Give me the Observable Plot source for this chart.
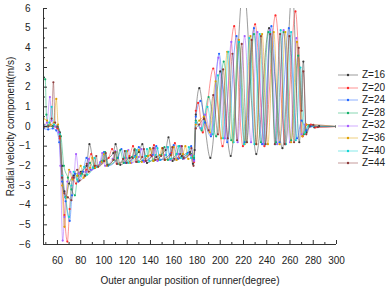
<!DOCTYPE html>
<html><head><meta charset="utf-8">
<script src="https://cdn.jsdelivr.net/npm/d3@7"></script>
<script src="https://cdn.jsdelivr.net/npm/@observablehq/plot@0.6"></script>
<style>
body{margin:0;background:#fff;}
#wrap{position:relative;width:391px;height:290px;font-family:"Liberation Sans",Arial,sans-serif;}
#legend{position:absolute;left:338px;top:69px;font-size:10px;color:#222;line-height:12.6px;}
.row{display:flex;align-items:center;height:12.6px;}
.row svg{display:block;margin-right:4px;}
</style></head><body><div id="wrap"></div>
<script>
const seriesNames = ["Z=16","Z=20","Z=24","Z=28","Z=32","Z=36","Z=40","Z=44"];
const seriesColors = ["#3a3a3a","#ff2a2a","#2266ff","#14b06a","#a55cff","#e0a000","#12d4d4","#8c3a3a"];
const xLabel = "Outer angular position of runner(degree)";
const yLabel = "Radial velocity component(m/s)";
const xDomain = [48, 300];
const yDomain = [-6, 6];
const xMajor = [60,80,100,120,140,160,180,200,220,240,260,280,300];
const xMinor = [50,70,90,110,130,150,170,190,210,230,250,270,290];
const yMajor = [-6,-5,-4,-3,-2,-1,0,1,2,3,4,5,6];
const yMinor = [-5.5,-4.5,-3.5,-2.5,-1.5,-0.5,0.5,1.5,2.5,3.5,4.5,5.5];

const z16 = [[48,0.02],[52,0.0],[56,0.03],[60,-0.05],[62,-0.3],[64,-2.0],[66,-3.3],[67,-3.6],[70,-2.9],[74,-2.5],[80,-2.3],[85,-2.0],[87.5,-0.9],[92,-2.1],[100,-1.75],[108,-1.35],[110,-0.9],[114,-1.95],[122,-1.6],[130,-1.3],[133,-0.9],[137,-1.85],[145,-1.55],[153,-1.2],[155.5,-0.55],[159,-1.75],[167,-1.5],[174,-1.3],[176.5,-1.9],[178,-1.2],[179,0.6],[182,1.95],[186,0.4],[191.5,-1.6],[200,2.8],[209,-1.5],[220,7.2],[231,-1.4],[242,5.0],[253.5,-1.1],[262,7.0],[268,-0.8],[271.5,3.3],[274,-0.3],[277,0.05],[281,-0.05],[285,0.02],[300,0.0]];
const z20 = [[48,0.1],[52,0.05],[56,0.0],[60,-0.1],[62,-0.6],[64,-2.5],[66,-4.5],[68.5,-5.85],[70.5,-4.2],[73,-2.6],[76,-2.9],[80,-2.4],[85,-2.2],[89,-1.4],[93,-2.0],[104,-1.6],[107,-1.15],[111,-1.9],[122,-1.5],[125,-1.0],[129,-1.8],[140,-1.45],[143,-0.95],[147,-1.7],[158,-1.35],[161,-0.85],[165,-1.6],[175,-1.4],[177.5,-1.8],[179,0.8],[181,1.2],[185,-0.3],[194,2.95],[202,-1.0],[212,5.1],[219.5,-1.0],[230,5.2],[238,-1.0],[247.5,5.65],[256,-0.9],[264.7,5.85],[271,-0.5],[274,0.1],[278,0.1],[282,-0.05],[300,0.0]];
const z24 = [[48,-0.1],[52,-0.15],[56,-0.1],[59,-0.2],[61.5,-0.8],[64,-2.8],[67,-3.8],[70.5,-4.8],[72.5,-3.5],[75,-2.4],[78,-2.8],[82,-2.3],[85,-1.6],[88.5,-2.2],[97,-1.8],[100,-1.3],[103.5,-2.0],[112,-1.6],[115,-1.15],[118.5,-1.85],[127,-1.5],[130,-1.05],[133.5,-1.75],[142,-1.45],[145,-1.0],[148.5,-1.7],[157,-1.4],[160,-0.95],[163.5,-1.65],[172,-1.35],[175,-1.0],[177.5,-1.7],[179,0.5],[183,1.3],[187,0.2],[192,-0.5],[199,3.7],[206,-0.8],[214,4.6],[221,-0.8],[229,5.0],[236,-0.9],[244,5.1],[251,-0.8],[259,5.0],[266,-0.6],[270,0.3],[274,-0.2],[278,0.0],[300,0.0]];
const z28 = [[48,2.5],[49.5,2.4],[50.5,0.6],[52,0.05],[56,0.0],[60,0.0],[63,-0.5],[65.5,-2.0],[69,-2.6],[72,-3.2],[75,-3.5],[77.5,-2.5],[81,-2.4],[84,-2.5],[88,-1.85],[91,-2.1],[98.5,-1.75],[101,-1.3],[104,-1.95],[111.5,-1.6],[114,-1.2],[117,-1.85],[124,-1.55],[126.5,-1.15],[129.5,-1.8],[137,-1.5],[139.5,-1.1],[142.5,-1.75],[149.5,-1.45],[152,-1.05],[155,-1.7],[162.5,-1.4],[165,-1.0],[168,-1.65],[175,-1.4],[177.5,-1.6],[179,0.3],[184,-0.2],[190,1.5],[196.5,-0.5],[203,3.3],[209.5,-0.7],[216,4.3],[222.5,-0.8],[229,4.7],[235,-0.8],[241.5,4.8],[248,-0.8],[254.5,4.8],[261,-0.7],[267,3.6],[272,-0.4],[276,0.05],[300,0.0]];
const z32 = [[48,0.05],[51,0.2],[53.5,1.5],[55,0.3],[58,0.0],[61,-0.3],[62.5,-2.0],[64.5,-5.8],[66,-4.6],[68.5,-2.8],[71,-2.3],[74,-2.6],[76,-1.4],[78.5,-2.4],[85,-2.3],[87,-1.65],[89.5,-2.2],[96.5,-1.85],[98.5,-1.35],[101,-2.0],[107.5,-1.65],[109.75,-1.25],[112,-1.9],[119,-1.6],[121,-1.2],[123.5,-1.85],[130,-1.55],[132.25,-1.15],[134.5,-1.8],[141.5,-1.5],[143.5,-1.1],[146,-1.75],[152.5,-1.45],[154.75,-1.05],[157,-1.7],[164,-1.4],[166,-1.0],[168.5,-1.65],[175,-1.45],[177.5,-1.75],[179,0.2],[183,-0.1],[187,0.6],[192,-0.4],[198.5,3.5],[204,-0.6],[209.5,4.3],[215,-0.8],[221,4.6],[226.5,-0.8],[232,4.8],[237.5,-0.9],[243,4.9],[249,-0.9],[254.5,4.9],[260,-0.8],[265.5,4.5],[270,-0.4],[273,0.1],[300,0.0]];
const z36 = [[48,0.4],[51,0.3],[54,0.1],[57,0.2],[59,1.4],[60.5,0.1],[62,-0.5],[64,-3.0],[66,-5.1],[68,-3.6],[70,-2.2],[73,-2.7],[77,-2.5],[80,-2.0],[82.5,-2.6],[88,-2.1],[90,-1.6],[92.5,-2.1],[98,-1.8],[100,-1.4],[102.5,-2.0],[108,-1.7],[110,-1.3],[112.5,-1.9],[118,-1.6],[120,-1.25],[122.5,-1.85],[128,-1.55],[130,-1.2],[132.5,-1.8],[138,-1.5],[140,-1.15],[142.5,-1.75],[148,-1.45],[150,-1.1],[152.5,-1.7],[158,-1.45],[160,-1.05],[162.5,-1.7],[168,-1.4],[170,-1.0],[172.5,-1.65],[177,-1.5],[179,0.1],[182,0.3],[186,0.5],[191,-0.3],[196,2.3],[201,-0.6],[206,3.8],[211,-0.8],[216,4.4],[221,-0.9],[226,4.6],[231,-0.9],[236,4.7],[241,-0.9],[246,4.8],[251,-0.9],[256,4.8],[261,-0.8],[266,4.3],[270.5,-0.5],[274,0.1],[300,0.0]];
const z40 = [[48,0.1],[51,0.0],[53,0.2],[55,1.0],[57,0.1],[60,0.0],[62,-0.4],[64,-2.5],[67,-3.6],[70,-4.6],[72,-3.0],[74,-2.3],[77,-2.7],[80,-2.5],[83,-2.05],[85.5,-2.45],[90.5,-2.1],[92,-1.6],[94,-2.05],[99.5,-1.75],[101,-1.35],[103,-1.95],[108.5,-1.7],[110,-1.3],[112,-1.9],[117.5,-1.6],[119,-1.25],[121,-1.85],[126.5,-1.55],[128,-1.2],[130,-1.8],[135.5,-1.5],[137,-1.15],[139,-1.75],[144.5,-1.45],[146,-1.1],[148,-1.7],[153.5,-1.45],[155,-1.05],[157,-1.65],[162.5,-1.4],[164,-1.0],[166,-1.6],[171.5,-1.4],[173,-1.05],[175,-1.6],[177.5,-1.5],[179,0.2],[184,-0.1],[189,1.0],[193.5,-0.4],[198,2.6],[202.5,-0.6],[207,3.8],[211.5,-0.8],[216,4.3],[220.5,-0.9],[225,4.5],[229.5,-0.9],[234,4.7],[238.5,-0.9],[243,4.8],[247.5,-0.9],[252,4.9],[256.5,-0.9],[261,4.8],[265,-0.7],[269,3.0],[273,-0.3],[276,0.0],[300,0.0]];
const z44 = [[48,-0.05],[52,0.0],[55,0.4],[56.5,2.25],[58,0.2],[60,0.0],[62,-0.5],[64,-2.6],[66,-3.4],[69,-3.6],[72,-3.75],[74,-2.6],[77,-2.2],[79,-2.75],[83.5,-2.5],[85.2,-1.9],[87,-2.3],[92,-2.0],[93.4,-1.5],[95,-2.05],[100,-1.75],[101.5,-1.35],[103,-1.95],[108.3,-1.7],[109.7,-1.3],[111.3,-1.9],[116.5,-1.65],[117.9,-1.25],[119.5,-1.85],[124.7,-1.6],[126.1,-1.2],[127.7,-1.8],[132.9,-1.55],[134.3,-1.15],[135.9,-1.75],[141,-1.5],[142.5,-1.1],[144,-1.7],[149.2,-1.5],[150.6,-1.1],[152.2,-1.7],[157.4,-1.45],[158.8,-1.05],[160.4,-1.65],[165.6,-1.4],[167,-1.0],[168.6,-1.6],[173.8,-1.4],[175.2,-1.1],[177,-2.0],[179,-0.1],[182,0.1],[186,0.4],[190,-0.2],[194,1.6],[198,-0.4],[202.5,2.9],[206.5,-0.6],[210.5,3.7],[214.5,-0.7],[218.5,4.2],[223,-0.8],[227,4.4],[231,-0.9],[235,4.6],[239,-0.9],[243,4.7],[247,-0.9],[251.5,4.7],[255.5,-0.9],[259.5,4.6],[263.5,-0.8],[267.5,4.0],[270,0.8],[271.5,2.8],[274,-0.4],[277,0.0],[280,0.08],[284,-0.03],[300,0.0]];

const seriesData = [z16, z20, z24, z28, z32, z36, z40, z44];
const table = seriesData.flatMap((pts, i) => pts.map(([x, y]) => ({series: seriesNames[i], x, y})));

const fmt = d => d < 0 ? "\u2212" + (-d) : String(d);
const frameW = 391 - 43 - 55, frameH = 290 - 8 - 46;

const chart = Plot.plot({
  width: 391, height: 290,
  marginLeft: 43, marginRight: 55, marginTop: 8, marginBottom: 46,
  x: {domain: xDomain, label: null},
  y: {domain: yDomain, label: null},
  color: {domain: seriesNames, range: seriesColors},
  style: {fontFamily: "'Liberation Sans', Arial, sans-serif", fontSize: "10px", color: "#222", background: "white", overflow: "visible"},
  marks: [
    Plot.line(table, {x: "x", y: "y", z: "series", stroke: "series", strokeOpacity: 0.5, strokeWidth: 1, curve: "monotone-x", clip: true}),
    Plot.dot(table, {x: "x", y: "y", fill: "series", r: 1.1, clip: true}),
    Plot.ruleX([xDomain[0]], {stroke: "#333"}),
    Plot.ruleY([yDomain[0]], {stroke: "#333"}),
    Plot.tickX(xMajor, {x: d => d, insetTop: frameH - 4, stroke: "#333"}),
    Plot.tickX(xMinor, {x: d => d, insetTop: frameH - 2, stroke: "#333"}),
    Plot.tickY(yMajor, {y: d => d, insetRight: frameW - 4, stroke: "#333"}),
    Plot.tickY(yMinor, {y: d => d, insetRight: frameW - 2, stroke: "#333"}),
    Plot.axisX({ticks: xMajor, tickSize: 0, tickPadding: 12, label: null, tickFormat: fmt}),
    Plot.axisY({ticks: yMajor, tickSize: 0, tickPadding: 13, label: null, tickFormat: fmt}),
    Plot.text([xLabel], {frameAnchor: "bottom", dy: 36, lineAnchor: "middle", textAnchor: "middle", text: d => d, fontSize: 10, fill: "#222"}),
    Plot.text([yLabel], {frameAnchor: "left", dx: -33, rotate: -90, textAnchor: "middle", lineAnchor: "middle", text: d => d, fontSize: 10, fill: "#222"})
  ]
});

const wrap = document.getElementById("wrap");
wrap.appendChild(chart);
const legend = document.createElement("div");
legend.id = "legend";
seriesNames.forEach((name, i) => {
  const row = document.createElement("div");
  row.className = "row";
  row.innerHTML = `<svg width="20" height="12"><line x1="0" x2="20" y1="6" y2="6" stroke="${seriesColors[i]}" stroke-opacity="0.5" stroke-width="1"/><circle cx="10" cy="6" r="1.2" fill="${seriesColors[i]}"/></svg><span>${name}</span>`;
  legend.appendChild(row);
});
wrap.appendChild(legend);
</script></body></html>
